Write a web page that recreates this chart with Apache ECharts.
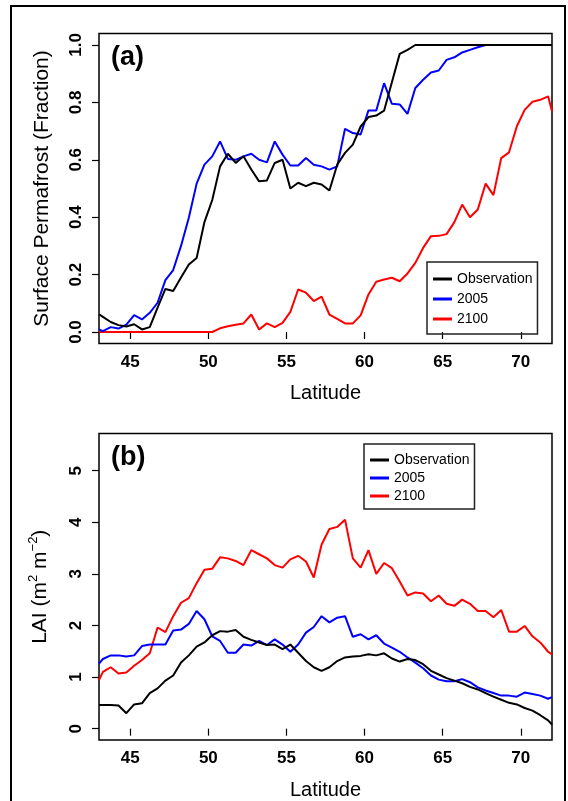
<!DOCTYPE html>
<html>
<head>
<meta charset="utf-8">
<script src="https://cdn.jsdelivr.net/npm/echarts@6/dist/echarts.min.js"></script>
<style>
  html, body { margin: 0; padding: 0; background: #fff; }
  #chart { width: 568px; height: 801px; }
</style>
</head>
<body>
<div id="chart"></div>
<script>
// latitude of each grid cell (cells centred on .25 / .75, plus the panel edges)
const latitude = [43, 43.25, 43.75, 44.25, 44.75, 45.25, 45.75, 46.25, 46.75, 47.25, 47.75,
    48.25, 48.75, 49.25, 49.75, 50.25, 50.75, 51.25, 51.75, 52.25, 52.75, 53.25, 53.75,
    54.25, 54.75, 55.25, 55.75, 56.25, 56.75, 57.25, 57.75, 58.25, 58.75, 59.25, 59.75,
    60.25, 60.75, 61.25, 61.75, 62.25, 62.75, 63.25, 63.75, 64.25, 64.75, 65.25, 65.75,
    66.25, 66.75, 67.25, 67.75, 68.25, 68.75, 69.25, 69.75, 70.25, 70.75, 71.25, 71.75, 72]

// (a) surface permafrost fraction
const permObs = [0.062, 0.053, 0.035, 0.024, 0.019, 0.027, 0.009, 0.017, 0.085, 0.150, 0.143,
    0.190, 0.235, 0.258, 0.383, 0.460, 0.577, 0.621, 0.589, 0.612, 0.566, 0.525, 0.528,
    0.589, 0.600, 0.500, 0.520, 0.508, 0.520, 0.514, 0.493, 0.583, 0.624, 0.653, 0.716,
    0.749, 0.754, 0.771, 0.870, 0.969, 0.983, 1.0, 1.0, 1.0, 1.0, 1.0, 1.0,
    1.0, 1.0, 1.0, 1.0, 1.0, 1.0, 1.0, 1.0, 1.0, 1.0, 1.0, 1.0, 1.0]
const perm2005 = [0.009, 0.003, 0.017, 0.012, 0.026, 0.059, 0.044, 0.067, 0.102, 0.181, 0.216,
    0.300, 0.398, 0.517, 0.583, 0.612, 0.664, 0.603, 0.600, 0.612, 0.621, 0.600, 0.591,
    0.664, 0.618, 0.580, 0.580, 0.606, 0.583, 0.577, 0.566, 0.577, 0.708, 0.693, 0.688,
    0.772, 0.772, 0.867, 0.795, 0.793, 0.760, 0.850, 0.879, 0.904, 0.911, 0.948, 0.957,
    0.974, 0.983, 0.992, 1.0, 1.0, 1.0, 1.0, 1.0, 1.0, 1.0, 1.0, 1.0, 1.0]
const perm2100 = [0, 0, 0, 0, 0, 0, 0, 0, 0, 0, 0,
    0, 0, 0, 0, 0, 0.013, 0.020, 0.025, 0.030, 0.061, 0.009, 0.030,
    0.017, 0.032, 0.070, 0.148, 0.137, 0.108, 0.123, 0.061, 0.046, 0.030, 0.030, 0.058,
    0.131, 0.175, 0.183, 0.189, 0.177, 0.204, 0.241, 0.293, 0.334, 0.335, 0.341, 0.383,
    0.444, 0.400, 0.427, 0.517, 0.477, 0.606, 0.626, 0.717, 0.774, 0.802, 0.809, 0.821, 0.769]

// (b) LAI
const laiObs = [0.46, 0.46, 0.46, 0.45, 0.30, 0.47, 0.49, 0.69, 0.78, 0.93, 1.03,
    1.28, 1.42, 1.59, 1.67, 1.81, 1.89, 1.88, 1.91, 1.78, 1.72, 1.67, 1.62,
    1.63, 1.54, 1.63, 1.47, 1.31, 1.19, 1.12, 1.19, 1.31, 1.38, 1.40, 1.41,
    1.44, 1.42, 1.46, 1.36, 1.30, 1.35, 1.33, 1.25, 1.12, 1.05, 0.98, 0.93,
    0.88, 0.81, 0.76, 0.69, 0.62, 0.56, 0.50, 0.47, 0.40, 0.35, 0.26, 0.16, 0.08]
const lai2005 = [1.26, 1.35, 1.42, 1.42, 1.40, 1.42, 1.60, 1.63, 1.63, 1.63, 1.90,
    1.92, 2.03, 2.28, 2.12, 1.79, 1.70, 1.47, 1.47, 1.63, 1.61, 1.70, 1.62,
    1.73, 1.63, 1.49, 1.63, 1.86, 1.97, 2.18, 2.06, 2.15, 2.18, 1.78, 1.83,
    1.73, 1.81, 1.65, 1.57, 1.49, 1.38, 1.28, 1.17, 1.03, 0.95, 0.92, 0.92,
    0.96, 0.90, 0.80, 0.74, 0.69, 0.64, 0.64, 0.62, 0.70, 0.67, 0.64, 0.58, 0.61]
const lai2100 = [0.94, 1.10, 1.19, 1.07, 1.09, 1.22, 1.33, 1.46, 1.96, 1.87, 2.18,
    2.44, 2.53, 2.82, 3.08, 3.10, 3.32, 3.30, 3.25, 3.17, 3.46, 3.38, 3.30,
    3.17, 3.12, 3.28, 3.35, 3.24, 2.93, 3.57, 3.87, 3.91, 4.05, 3.30, 3.12,
    3.46, 3.00, 3.21, 3.11, 2.85, 2.58, 2.64, 2.62, 2.47, 2.58, 2.42, 2.38,
    2.50, 2.42, 2.28, 2.28, 2.16, 2.30, 1.88, 1.88, 1.99, 1.79, 1.67, 1.49, 1.44]

const latTicks = [45, 50, 55, 60, 65, 70]
const permTicks = [0, 0.2, 0.4, 0.6, 0.8, 1.0]
const laiTicks = [0, 1, 2, 3, 4, 5]
const seriesNames = ["Observation", "2005", "2100"]
const colors = ["#000000", "#0000ff", "#ff0000"]

const font = "'Liberation Sans', Arial, sans-serif"

function pairs(ys) {
    return latitude.map((x, i) => [x, ys[i]])
}

function xAxisFor(gridIndex) {
    return {
        type: "value",
        gridIndex: gridIndex,
        min: 43,
        max: 72,
        axisLine: { show: false },
        splitLine: { show: false },
        axisTick: {
            customValues: latTicks,
            length: 7,
            lineStyle: { color: "#000", width: 1.2 },
        },
        axisLabel: {
            customValues: latTicks,
            margin: 10,
            fontSize: 17,
            fontWeight: "bold",
            color: "#000",
            fontFamily: font,
        },
        name: "Latitude",
        nameLocation: "middle",
        nameGap: 40,
        nameTextStyle: { fontSize: 20, color: "#000", fontFamily: font },
    }
}

function yAxisFor(gridIndex, min, max, ticks, digits, name) {
    return {
        type: "value",
        gridIndex: gridIndex,
        min: min,
        max: max,
        axisLine: { show: false },
        splitLine: { show: false },
        axisTick: {
            customValues: ticks,
            length: 7,
            lineStyle: { color: "#000", width: 1.2 },
        },
        axisLabel: {
            customValues: ticks,
            rotate: 90,
            margin: 14,
            fontSize: 17,
            fontWeight: "bold",
            color: "#000",
            fontFamily: font,
            formatter: (v) => v.toFixed(digits),
        },
        name: name,
        nameLocation: "middle",
        nameRotate: 90,
        nameGap: 46,
        nameTextStyle: {
            fontSize: 21,
            color: "#000",
            fontFamily: font,
            rich: {
                sup: { fontSize: 13, verticalAlign: "top", lineHeight: 26, fontFamily: font, color: "#000" },
            },
        },
    }
}

function legendFor(left, top, gap, padding) {
    return {
        left: left,
        top: top,
        orient: "vertical",
        data: seriesNames,
        icon: "rect",
        itemWidth: 19,
        itemHeight: 3,
        itemGap: gap,
        padding: padding,
        borderColor: "#222",
        borderWidth: 1.5,
        borderRadius: 0,
        selectedMode: false,
        textStyle: { fontSize: 14, color: "#000", fontFamily: font, lineHeight: 14 },
    }
}

const series = []
const panels = [[permObs, perm2005, perm2100], [laiObs, lai2005, lai2100]]
panels.forEach((sets, p) => {
    sets.forEach((ys, k) => {
        series.push({
            name: seriesNames[k],
            type: "line",
            xAxisIndex: p,
            yAxisIndex: p,
            data: pairs(ys),
            symbol: "none",
            lineStyle: { color: colors[k], width: 2 },
            itemStyle: { color: colors[k] },
            z: 3 - k,
        })
    })
})

const myChart = echarts.init(document.getElementById("chart"))
myChart.setOption({
    animation: false,
    backgroundColor: "#fff",
    textStyle: { fontFamily: font },
    title: [
        { text: "(a)", left: 111, top: 44, padding: 0, textStyle: { fontSize: 27, fontWeight: "bold", color: "#000", fontFamily: font } },
        { text: "(b)", left: 111, top: 444, padding: 0, textStyle: { fontSize: 27, fontWeight: "bold", color: "#000", fontFamily: font } },
    ],
    legend: [legendFor(427, 262, 6, [10, 5, 8, 6]), legendFor(364, 444, 4, [9, 5, 6, 6])],
    grid: [
        { left: 99, top: 33.5, width: 453, height: 310, show: true, borderColor: "#000", borderWidth: 1.5, backgroundColor: "transparent" },
        { left: 99, top: 433.5, width: 453, height: 310, show: true, borderColor: "#000", borderWidth: 1.5, backgroundColor: "transparent" },
    ],
    xAxis: [xAxisFor(0), xAxisFor(1)],
    yAxis: [
        yAxisFor(0, -0.04, 1.04, permTicks, 1, "Surface Permafrost (Fraction)"),
        yAxisFor(1, -0.22, 5.72, laiTicks, 0, "LAI (m{sup|2} m{sup|\u22122})"),
    ],
    graphic: [
        {
            type: "rect",
            shape: { x: 11, y: 6, width: 554, height: 830 },
            style: { fill: "none", stroke: "#000", lineWidth: 2 },
            silent: true,
        },
    ],
    series: series,
})
window.addEventListener("resize", function () {
    myChart.resize()
})
</script>
</body>
</html>
